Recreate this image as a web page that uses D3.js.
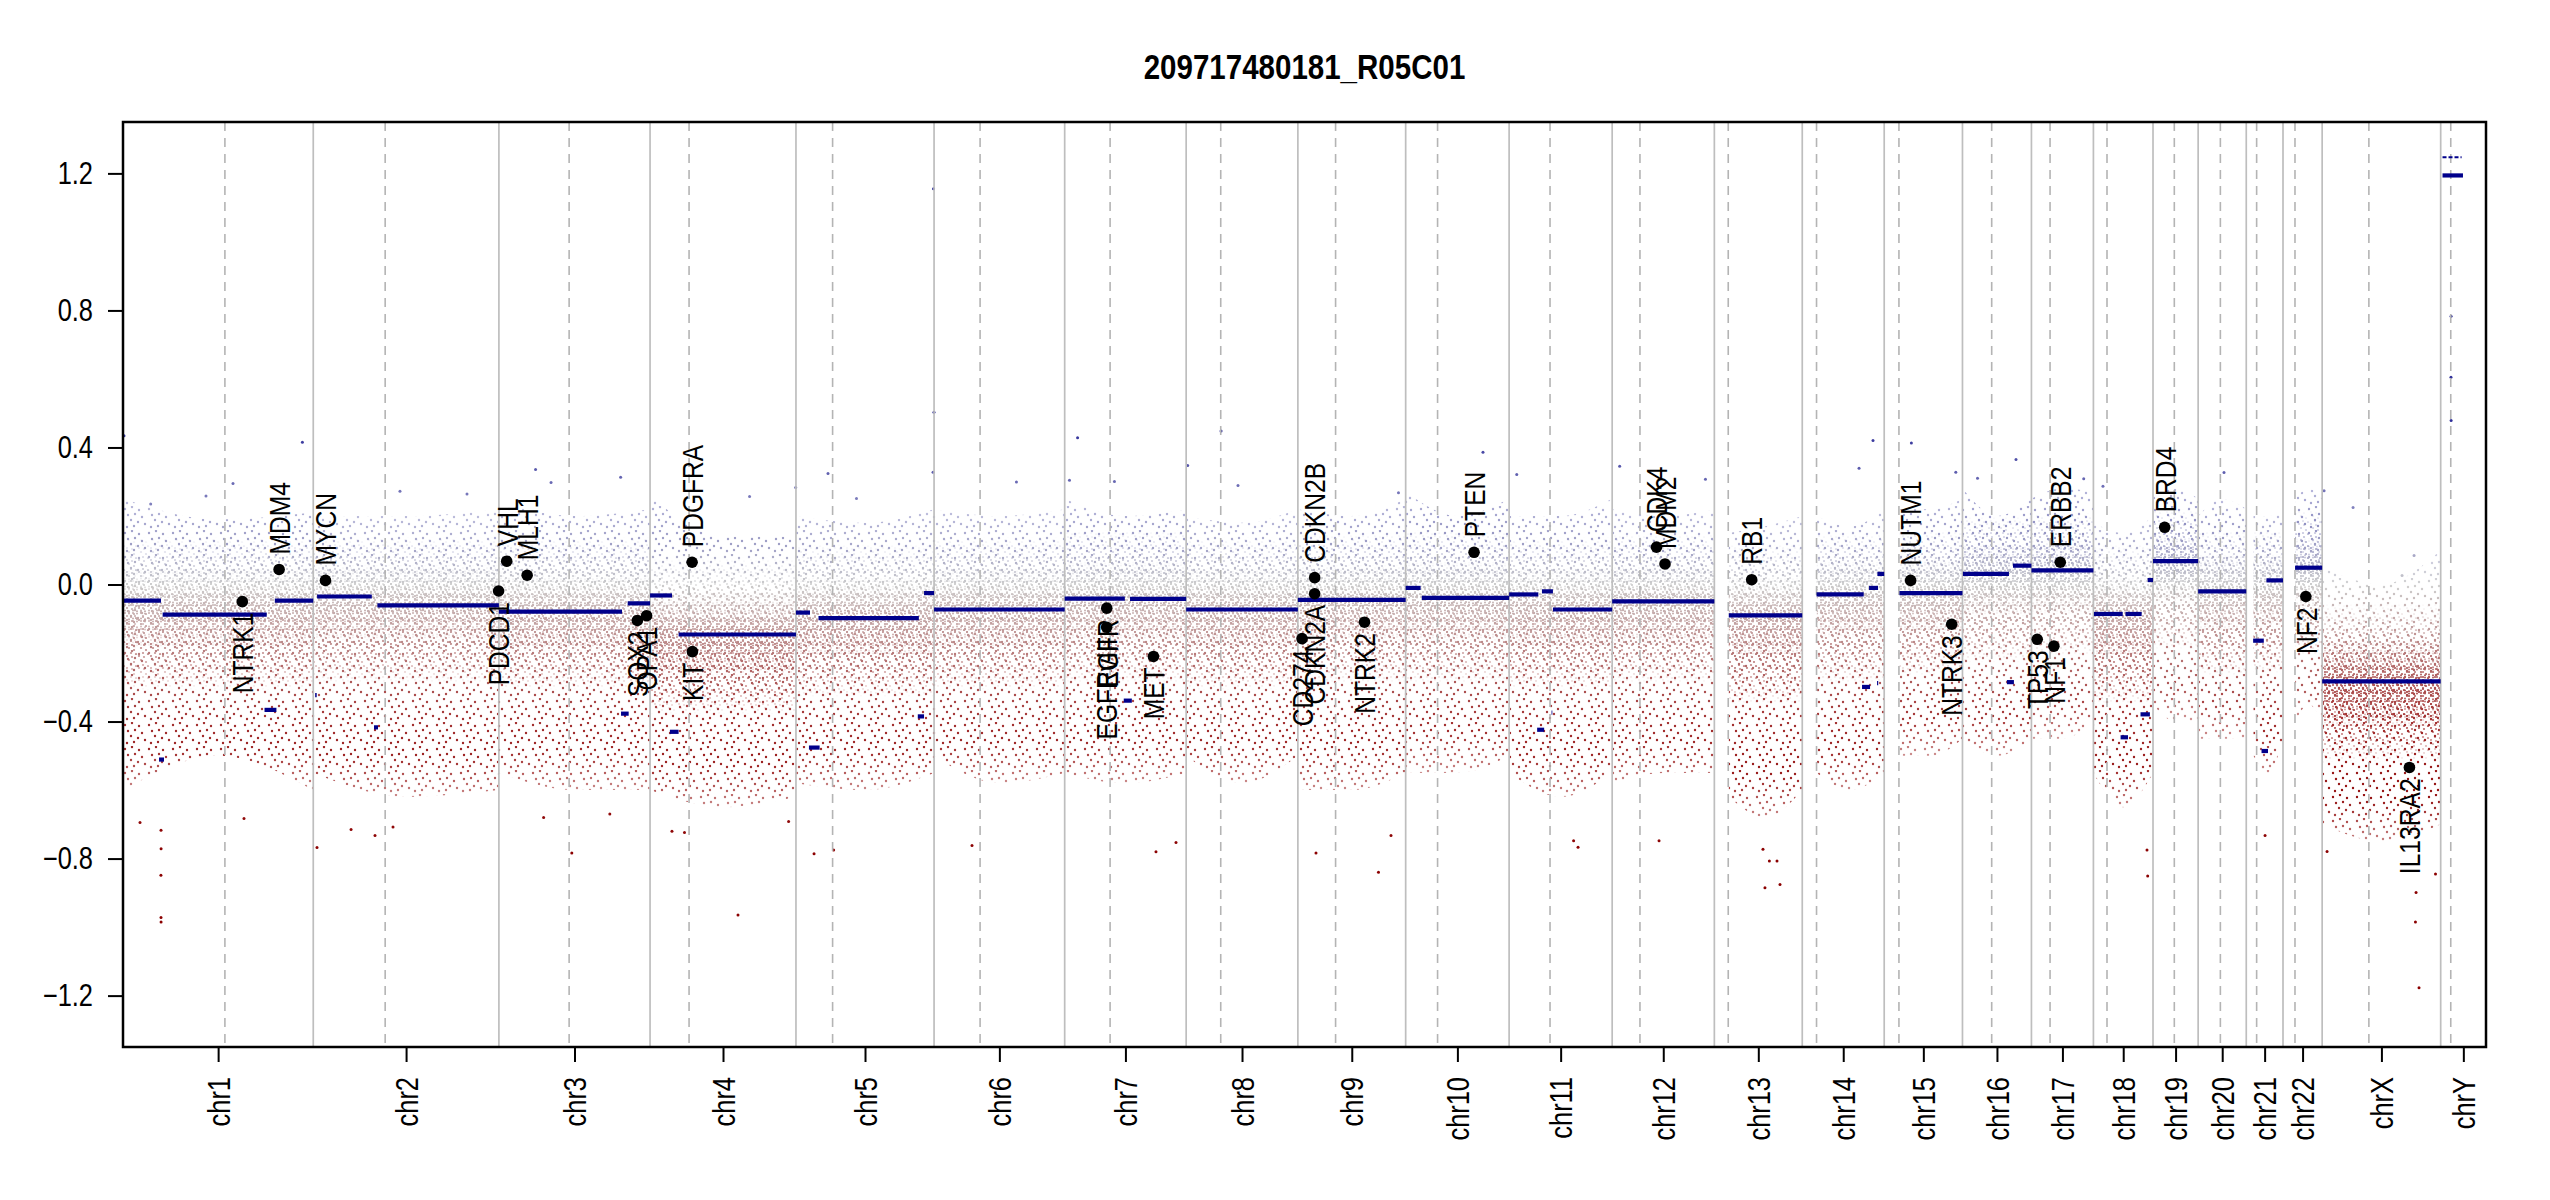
<!DOCTYPE html>
<html>
<head>
<meta charset="utf-8">
<script src="https://cdn.jsdelivr.net/npm/d3@7"></script>
<style>
  body { margin: 0; background: #fff; }
  svg { display: block; }
</style>
</head>
<body>
<div id="d3-target"></div>
<script>
// chromosome layout (hg19, Mb)
const chroms = ['chr1','chr2','chr3','chr4','chr5','chr6','chr7','chr8','chr9','chr10','chr11','chr12',
  'chr13','chr14','chr15','chr16','chr17','chr18','chr19','chr20','chr21','chr22','chrX','chrY'];
const chromLen = [249.25, 243.2, 198.02, 191.15, 180.92, 171.12, 159.14, 146.36, 141.21, 135.53, 135.01, 133.85,
  115.17, 107.35, 102.53, 90.35, 81.2, 78.08, 59.13, 63.03, 48.13, 51.3, 155.27, 59.37];
const centromere = [133.5, 94.2, 92.0, 51.1, 48.0, 60.3, 59.5, 45.3, 49.4, 41.8, 53.6, 36.4,
  18.2, 18.7, 19.3, 38.3, 24.4, 17.8, 27.9, 29.1, 13.6, 15.7, 61.2, 13.2];

// segments: chromosome, start Mb, end Mb, log2 ratio
const segments = [
  ['chr1', 0, 49.8, -0.047], ['chr1', 47.2, 53.7, -0.511], ['chr1', 51.9, 188.3, -0.088],
  ['chr1', 185.4, 201, -0.366], ['chr1', 198.9, 249.25, -0.047],
  ['chr2', 2.5, 4.5, -0.323], ['chr2', 5, 76.7, -0.035], ['chr2', 79.6, 84.8, -0.417], ['chr2', 84, 243.2, -0.061],
  ['chr3', 0, 161.3, -0.079], ['chr3', 160, 170, -0.377], ['chr3', 168.7, 198.02, -0.055],
  ['chr4', 0, 28.8, -0.032], ['chr4', 26, 37.4, -0.43], ['chr4', 37.4, 191.15, -0.146],
  ['chr5', 0, 18.4, -0.082], ['chr5', 17, 31, -0.476], ['chr5', 29.5, 161, -0.098],
  ['chr5', 159.6, 167.8, -0.385], ['chr5', 167.8, 180.92, -0.025],
  ['chr6', 0, 171.12, -0.073],
  ['chr7', 0, 78.8, -0.041], ['chr7', 77.4, 88, -0.339], ['chr7', 85.6, 159.14, -0.042],
  ['chr8', 0, 146.36, -0.073],
  ['chr9', 0, 141.21, -0.045],
  ['chr10', 0, 19.6, -0.01], ['chr10', 21.1, 135.53, -0.039],
  ['chr11', 0, 38.3, -0.029], ['chr11', 36.7, 45.9, -0.424], ['chr11', 43, 57.4, -0.02],
  ['chr11', 55.6, 56.6, -0.374], ['chr11', 57.4, 135.01, -0.073],
  ['chr12', 0, 133.85, -0.049],
  ['chr13', 18.9, 115.17, -0.09],
  ['chr14', 18.7, 80.5, -0.029], ['chr14', 78.3, 88.8, -0.299], ['chr14', 87.5, 99.3, -0.01],
  ['chr14', 98, 99.5, -0.288], ['chr14', 98.4, 107.35, 0.031],
  ['chr15', 20, 102.53, -0.025],
  ['chr16', 0.6, 60.9, 0.031], ['chr16', 58.2, 67.4, -0.285], ['chr16', 66.2, 90.35, 0.055],
  ['chr17', 0, 81.2, 0.041],
  ['chr18', 0.7, 38.4, -0.086], ['chr18', 42, 63.2, -0.086], ['chr18', 35.6, 45.3, -0.446],
  ['chr18', 61.7, 74, -0.379], ['chr18', 71.1, 78.08, 0.013],
  ['chr19', 0, 59.13, 0.068],
  ['chr20', 0, 63.03, -0.02],
  ['chr21', 9, 23, -0.164], ['chr21', 20, 28.5, -0.486], ['chr21', 26.4, 48.13, 0.012],
  ['chr22', 15.8, 51.3, 0.049],
  ['chrX', 0, 155.27, -0.283],
  ['chrY', 2.4, 29.2, 1.194]
];
// short dotted segment on chrY
const thinSegments = [['chrY', 2.4, 27.4, 1.247]];

// detail genes: name, chromosome, Mb, log2 ratio
const genes = [
  ['NTRK1', 'chr1', 156.3, -0.05], ['MDM4', 'chr1', 204.5, 0.044],
  ['MYCN', 'chr2', 16.0, 0.012], ['PDCD1', 'chr2', 242.8, -0.019],
  ['VHL', 'chr3', 10.2, 0.068], ['MLH1', 'chr3', 37.0, 0.027],
  ['SOX2', 'chr3', 181.4, -0.105], ['OPA1', 'chr3', 193.5, -0.091],
  ['PDGFRA', 'chr4', 55.1, 0.065], ['KIT', 'chr4', 55.5, -0.196],
  ['EGFR', 'chr7', 55.1, -0.069], ['EGFRvIII', 'chr7', 55.0, -0.125], ['MET', 'chr7', 116.3, -0.21],
  ['CD274', 'chr9', 5.45, -0.158], ['CDKN2A', 'chr9', 21.97, -0.027], ['CDKN2B', 'chr9', 22.0, 0.02],
  ['NTRK2', 'chr9', 87.3, -0.11],
  ['PTEN', 'chr10', 89.6, 0.094],
  ['CDK4', 'chr12', 58.1, 0.109], ['MDM2', 'chr12', 69.2, 0.06],
  ['RB1', 'chr13', 48.9, 0.014],
  ['NUTM1', 'chr15', 34.6, 0.012], ['NTRK3', 'chr15', 88.4, -0.116],
  ['TP53', 'chr17', 7.57, -0.16], ['NF1', 'chr17', 29.4, -0.18], ['ERBB2', 'chr17', 37.8, 0.065],
  ['BRD4', 'chr19', 15.3, 0.167],
  ['NF2', 'chr22', 29.9, -0.035],
  ['IL13RA2', 'chrX', 114.3, -0.534]
];

// bin cloud extents read per chromosome: outer limits at start / middle / end
const cloudFrom = [0,0,0,0,0,0,0,0,0,0,0,0, 19,19,20,0,0,0,0,0,9.5,16,0];
const cloudTop = [
  [0.25,0.19,0.21],[0.2,0.2,0.22],[0.24,0.2,0.22],[0.26,0.14,0.14],[0.2,0.18,0.22],[0.22,0.2,0.22],
  [0.25,0.2,0.22],[0.2,0.18,0.22],[0.22,0.2,0.25],[0.27,0.2,0.25],[0.2,0.2,0.25],[0.22,0.2,0.22],
  [0.15,0.17,0.2],[0.2,0.17,0.22],[0.22,0.22,0.25],[0.28,0.2,0.25],[0.25,0.28,0.27],[0.18,0.15,0.2],
  [0.28,0.28,0.25],[0.2,0.25,0.22],[0.2,0.2,0.22],[0.25,0.28,0.25],[0.05,0.0,0.1]
];
const cloudBottom = [
  [-0.6,-0.5,-0.6],[-0.55,-0.62,-0.6],[-0.55,-0.6,-0.6],[-0.6,-0.65,-0.62],[-0.58,-0.6,-0.55],[-0.5,-0.58,-0.55],
  [-0.55,-0.58,-0.55],[-0.5,-0.58,-0.5],[-0.6,-0.6,-0.55],[-0.55,-0.55,-0.5],[-0.55,-0.62,-0.55],[-0.58,-0.55,-0.55],
  [-0.62,-0.68,-0.6],[-0.55,-0.6,-0.55],[-0.5,-0.5,-0.45],[-0.45,-0.5,-0.45],[-0.45,-0.45,-0.4],[-0.55,-0.65,-0.55],
  [-0.35,-0.4,-0.4],[-0.45,-0.45,-0.45],[-0.5,-0.55,-0.45],[-0.4,-0.35,-0.4],[-0.7,-0.75,-0.7]
];
// denser bands: [top, bottom]
const midBand = [
  [0.14,-0.31],[0.14,-0.29],[0.14,-0.31],[0.08,-0.38],[0.12,-0.33],[0.14,-0.31],[0.16,-0.29],[0.14,-0.31],
  [0.15,-0.29],[0.16,-0.29],[0.14,-0.31],[0.15,-0.29],[0.12,-0.35],[0.15,-0.29],[0.16,-0.27],[0.2,-0.23],
  [0.21,-0.21],[0.12,-0.35],[0.22,-0.19],[0.16,-0.27],[0.16,-0.26],[0.22,-0.21],[-0.05,-0.52]
];
const coreBand = [
  [0.05,-0.19],[0.06,-0.17],[0.04,-0.2],[-0.02,-0.27],[0.03,-0.22],[0.05,-0.19],[0.07,-0.17],[0.05,-0.19],
  [0.06,-0.17],[0.07,-0.17],[0.05,-0.19],[0.06,-0.18],[0.03,-0.22],[0.07,-0.16],[0.08,-0.15],[0.12,-0.1],
  [0.13,-0.09],[0.03,-0.22],[0.15,-0.06],[0.09,-0.14],[0.09,-0.13],[0.14,-0.08],[-0.16,-0.42]
];

// single bins standing out of the cloud: chromosome, Mb, log2 ratio
const outlierBins = [
  ['chr1',49.8,-0.717],['chr1',49.9,-0.771],['chr1',49.7,-0.849],['chr1',49.8,-0.972],['chr1',49.9,-0.985],
  ['chr1',22.3,-0.695],['chr1',158.5,-0.683],['chr2',4.9,-0.768],['chr2',49.5,-0.715],['chr2',80.9,-0.733],
  ['chr2',104.5,-0.708],['chr3',58.6,-0.68],['chr3',95.5,-0.784],['chr3',145.3,-0.67],['chr4',28.7,-0.72],
  ['chr4',45.1,-0.724],['chr4',115.2,-0.965],['chr4',181.5,-0.692],['chr5',23.7,-0.786],['chr5',49.3,-0.775],
  ['chr6',49.7,-0.762],['chr7',119.6,-0.78],['chr7',145.8,-0.753],['chr9',23.7,-0.784],['chr9',105.6,-0.84],
  ['chr9',122,-0.733],['chr11',90.3,-0.767],['chr11',84.5,-0.748],['chr12',61.4,-0.748],['chr13',66.3,-0.885],
  ['chr13',86,-0.876],['chr13',63.7,-0.773],['chr13',72.1,-0.807],['chr13',82.1,-0.807],['chr18',71.1,-0.851],
  ['chr18',70.2,-0.775],['chrX',123,-0.899],['chrX',122.2,-0.985],['chrX',126.9,-1.177],['chrX',148.5,-0.845],
  ['chr21',24.6,-0.733],['chrX',6.4,-0.779],
  ['chr1',235,0.415],['chr1',1.3,0.434],['chr3',48,0.336],['chr3',159.5,0.313],['chr2',201.4,0.264],
  ['chr1',144.1,0.295],['chr4',190.8,0.283],['chr5',42,0.324],['chr3',68.3,0.298],['chr4',130.4,0.257],
  ['chr1',36.3,0.235],['chr1',108.7,0.258],['chr2',113.6,0.272],['chr5',180.2,1.155],['chr5',180.8,0.503],
  ['chr5',179.6,0.328],['chr7',16.9,0.428],['chr8',45.7,0.448],['chr8',2.0,0.347],['chr10',101.3,0.386],
  ['chr12',9.8,0.345],['chr11',10,0.321],['chr8',67.9,0.289],['chr7',6.3,0.304],['chr7',65.2,0.301],
  ['chr6',107.9,0.299],['chr5',79.3,0.251],['chr9',131.8,0.268],['chr14',92.7,0.42],['chr15',35.6,0.413],
  ['chr14',74.4,0.339],['chr15',93.8,0.328],['chr16',70.1,0.365],['chrY',13.6,0.783],['chrY',13.5,0.605],
  ['chrY',13.7,0.479],['chr20',33.9,0.327],['chrX',2.5,0.274],['chrX',40.5,0.225],['chr12',122.2,0.307],
  ['chr18',12.5,0.287],['chr16',19.7,0.31],['chr17',68.5,0.309],['chrX',120.4,0.085],['chrX',104.7,0.026]
];

const yTicks = [-1.2, -0.8, -0.4, 0, 0.4, 0.8, 1.2];
const colorValues = [0.45, 0.25, 0.1, 0.0, -0.1, -0.25, -0.4, -0.55, -0.8];
const colorRamp = ['#30309a', '#7c7cbc', '#a2a2c6', '#cbcbcb', '#c4a6a6', '#b06262', '#a22e2e', '#971616', '#8b0000'];

const W = 2550, H = 1200;
const margin = {top: 122, right: 64, bottom: 153, left: 123},
  width = W - margin.left - margin.right,
  height = H - margin.top - margin.bottom;
const narrow = 0.82;   // R device text comes out as a narrow sans

const chromStart = [0, ...d3.cumsum(chromLen)].slice(0, chroms.length);
const total = d3.sum(chromLen);
const ci = name => chroms.indexOf(name);
const gpos = (chr, mb) => chromStart[ci(chr)] + mb;

const x = d3.scaleLinear().domain([0, total]).range([0, width]);
const y = d3.scaleLinear().domain([-1.35, 1.35]).range([height, 0]);
const col = d3.scaleLinear().domain(colorValues).range(colorRamp).clamp(true);

const svgTop = d3.select('#d3-target').append('svg')
  .attr('width', W).attr('height', H)
  .style('font-family', '"Liberation Sans", Arial, sans-serif');
svgTop.append('rect').attr('width', W).attr('height', H).attr('fill', '#fff');

const svg = svgTop.append('g')
  .attr('transform', `translate(${margin.left},${margin.top})`);

// gradient coloring bins by value
const defs = svgTop.append('defs');
const gy0 = y(colorValues[0]), gy1 = y(colorValues[colorValues.length - 1]);
const grad = defs.append('linearGradient').attr('id', 'valGrad')
  .attr('gradientUnits', 'userSpaceOnUse')
  .attr('x1', 0).attr('x2', 0).attr('y1', gy0).attr('y2', gy1);
colorValues.forEach((v, i) => {
  grad.append('stop').attr('offset', (y(v) - gy0) / (gy1 - gy0)).attr('stop-color', colorRamp[i]);
});

// stipple textures and soft band edges for the bin cloud
const stipples = [
  {id: 'sparse', tile: 24, r: 1.2, ox: 0, oy: 0, edge: ['#808080', 0.15],
   dots: [[2,3],[9,1],[16,4],[5,9],[12,8],[19,11],[8,14],[15,16],[22,18],[4,21],[11,20]]},
  {id: 'mid', tile: 12, r: 1.1, ox: 3, oy: 5, edge: ['#000', 0.3],
   dots: [[1,1],[6,2],[3,5],[8,7],[5,10],[10,11]]},
  {id: 'core', tile: 8, r: 1.0, ox: 1, oy: 2, edge: ['#000', 0.4],
   dots: [[1,1],[5,1.5],[3,4],[1,6.5],[5,7.2]]}
];
stipples.forEach(s => {
  const p = defs.append('pattern').attr('id', 'pat-' + s.id)
    .attr('patternUnits', 'userSpaceOnUse')
    .attr('x', s.ox).attr('y', s.oy)
    .attr('width', s.tile).attr('height', s.tile);
  p.selectAll('circle').data(s.dots).enter().append('circle')
    .attr('cx', d => d[0]).attr('cy', d => d[1]).attr('r', s.r).attr('fill', '#fff');
  defs.append('mask').attr('id', 'mask-' + s.id)
    .attr('maskUnits', 'userSpaceOnUse')
    .attr('x', 0).attr('y', 0).attr('width', width).attr('height', height)
    .append('rect').attr('width', width).attr('height', height).attr('fill', `url(#pat-${s.id})`);
  const fg = defs.append('linearGradient').attr('id', 'feather-' + s.id)
    .attr('x1', 0).attr('y1', 0).attr('x2', 0).attr('y2', 1);
  [[0, s.edge[0]], [s.edge[1], '#fff'], [1 - s.edge[1], '#fff'], [1, s.edge[0]]].forEach(st => {
    fg.append('stop').attr('offset', st[0]).attr('stop-color', st[1]);
  });
});

const envArea = d3.area()
  .x(d => x(d.g))
  .y0(d => y(d.lo))
  .y1(d => y(d.hi))
  .curve(d3.curveMonotoneX);

const cloudLayers = [
  {id: 'sparse', top: i => cloudTop[i], bot: i => cloudBottom[i]},
  {id: 'mid', top: i => [0, 1, 2].map(() => midBand[i][0]), bot: i => [0, 1, 2].map(() => midBand[i][1])},
  {id: 'core', top: i => [0, 1, 2].map(() => coreBand[i][0]), bot: i => [0, 1, 2].map(() => coreBand[i][1])}
];

cloudLayers.forEach(layer => {
  const m = defs.append('mask').attr('id', 'band-' + layer.id)
    .attr('maskUnits', 'userSpaceOnUse')
    .attr('x', 0).attr('y', 0).attr('width', width).attr('height', height);
  cloudTop.forEach((t, i) => {
    const tp = layer.top(i), bt = layer.bot(i);
    const s = chromStart[i] + cloudFrom[i], e = chromStart[i] + chromLen[i];
    const knots = [s, (s + e) / 2, e];
    m.append('path')
      .datum(knots.map((k, j) => ({g: k, hi: tp[j], lo: bt[j]})))
      .attr('d', envArea)
      .attr('fill', `url(#feather-${layer.id})`);
  });
  svg.append('g').attr('mask', `url(#mask-${layer.id})`)
    .append('g').attr('mask', `url(#band-${layer.id})`)
    .append('rect')
      .attr('width', width).attr('height', height)
      .attr('fill', 'url(#valGrad)');
});

// single outstanding bins
svg.append('g').selectAll('circle')
  .data(outlierBins)
  .enter().append('circle')
    .attr('cx', d => x(gpos(d[0], d[1])))
    .attr('cy', d => y(d[2]))
    .attr('r', 1.5)
    .attr('fill', d => col(d[2]));

// chromosome borders and centromeres
svg.append('g').selectAll('line')
  .data(chromStart.slice(1))
  .enter().append('line')
    .attr('x1', d => x(d)).attr('x2', d => x(d))
    .attr('y1', 0).attr('y2', height)
    .attr('stroke', '#bebebe').attr('stroke-width', 1.7);

svg.append('g').selectAll('line')
  .data(centromere.map((c, i) => chromStart[i] + c))
  .enter().append('line')
    .attr('x1', d => x(d)).attr('x2', d => x(d))
    .attr('y1', 0).attr('y2', height)
    .attr('stroke', '#b4b4b4').attr('stroke-width', 1.6)
    .attr('stroke-dasharray', '9,7');

// segments
svg.append('g').selectAll('line')
  .data(segments)
  .enter().append('line')
    .attr('x1', d => x(gpos(d[0], d[1])))
    .attr('x2', d => x(gpos(d[0], d[2])))
    .attr('y1', d => y(d[3])).attr('y2', d => y(d[3]))
    .attr('stroke', '#00008b').attr('stroke-width', 4.2);

svg.append('g').selectAll('line')
  .data(thinSegments)
  .enter().append('line')
    .attr('x1', d => x(gpos(d[0], d[1])))
    .attr('x2', d => x(gpos(d[0], d[2])))
    .attr('y1', d => y(d[3])).attr('y2', d => y(d[3]))
    .attr('stroke', '#00008b').attr('stroke-width', 2)
    .attr('stroke-dasharray', '4,2');

// detail genes
const geneG = svg.append('g').attr('class', 'genes');
geneG.selectAll('circle')
  .data(genes)
  .enter().append('circle')
    .attr('cx', d => x(gpos(d[1], d[2])))
    .attr('cy', d => y(d[3]))
    .attr('r', 5.8)
    .attr('fill', '#000');
geneG.selectAll('text')
  .data(genes)
  .enter().append('text')
    .attr('transform', d => {
      const gx = x(gpos(d[1], d[2]));
      const gy = d[3] >= 0 ? y(d[3]) - 15 : y(d[3]) + 11;
      return `translate(${gx},${gy}) rotate(-90) scale(${narrow},1)`;
    })
    .attr('text-anchor', d => d[3] >= 0 ? 'start' : 'end')
    .attr('dy', '0.36em')
    .attr('font-size', 30)
    .attr('fill', '#000')
    .text(d => d[0]);

// axes
const yAxis = d3.axisLeft(y)
  .tickValues(yTicks)
  .tickSize(15)
  .tickFormat(d3.format('.1f'));

const xAxis = d3.axisBottom(x)
  .tickValues(chroms.map((c, i) => chromStart[i] + chromLen[i] / 2))
  .tickSize(15)
  .tickFormat((d, i) => chroms[i]);

const gy = svg.append('g').attr('class', 'y axis').call(yAxis);
gy.select('.domain').remove();
gy.selectAll('line').attr('stroke', '#000').attr('stroke-width', 2);
gy.selectAll('text')
  .attr('x', 0)
  .attr('transform', `translate(-30,0) scale(${narrow},1)`)
  .attr('text-anchor', 'end')
  .attr('font-size', 31)
  .attr('fill', '#000');

const gx = svg.append('g').attr('class', 'x axis')
  .attr('transform', `translate(0,${height})`)
  .call(xAxis);
gx.select('.domain').remove();
gx.selectAll('line').attr('stroke', '#000').attr('stroke-width', 2);
gx.selectAll('text')
  .attr('x', 0).attr('y', 0)
  .attr('transform', `rotate(-90) translate(-30,0) scale(${narrow},1)`)
  .attr('text-anchor', 'end')
  .attr('dy', '0.36em')
  .attr('font-size', 31)
  .attr('fill', '#000');

// frame
svg.append('rect')
  .attr('width', width).attr('height', height)
  .attr('fill', 'none').attr('stroke', '#000').attr('stroke-width', 2.5);

// title
svgTop.append('text')
  .attr('transform', `translate(${margin.left + width / 2},79) scale(${narrow},1)`)
  .attr('text-anchor', 'middle')
  .attr('font-size', 36)
  .attr('font-weight', 'bold')
  .text('209717480181_R05C01');
</script>
</body>
</html>
